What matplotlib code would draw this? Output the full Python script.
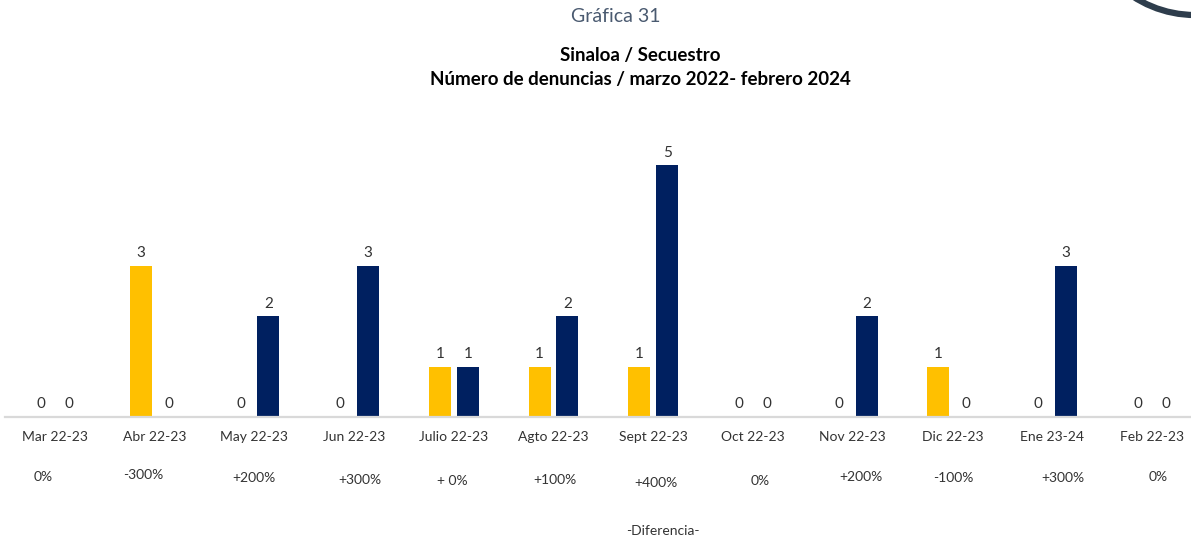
import matplotlib
matplotlib.use("Agg")
import matplotlib.pyplot as plt
from matplotlib.patches import Circle
import numpy as np

categories = ["Mar 22-23", "Abr 22-23", "May 22-23", "Jun 22-23", "Julio 22-23", "Agto 22-23",
              "Sept 22-23", "Oct 22-23", "Nov 22-23", "Dic 22-23", "Ene 23-24", "Feb 22-23"]
serie_2022_23 = [0, 3, 0, 0, 1, 1, 1, 0, 0, 1, 0, 0]
serie_2023_24 = [0, 0, 2, 3, 1, 2, 5, 0, 2, 0, 3, 0]
diferencias = ["0%", "-300%", "+200%", "+300%", "+ 0%", "+100%", "+400%", "0%", "+200%", "-100%", "+300%", "0%"]

# layout nudges (pixels) for the percent labels, as placed in the original
pct_dx = [-12, -11, 0, 6, -1, 1, 3, 7, 8, 1, 11, 6]
pct_y = [477, 475, 478, 480, 481, 480, 483, 481, 477, 478, 478, 477]

YELLOW = "#FFC000"
NAVY = "#002060"
FONT = "Lato"

W, H = 1191, 540
fig = plt.figure(figsize=(W / 100, H / 100), dpi=100)
plt.rcParams['font.family'] = [FONT, 'DejaVu Sans']

def fx(px):
    return px / W

def fy(py):
    return 1 - py / H

ax_left, ax_right = 5, 1191
ax_bottom, ax_top = 417, 114.6
ax = fig.add_axes([fx(ax_left), fy(ax_bottom), fx(ax_right - ax_left), (ax_bottom - ax_top) / H])

x = np.arange(len(categories))
bw = 0.22
off = 0.14
b1 = ax.bar(x - off, serie_2022_23, width=bw, color=YELLOW, zorder=2)
b2 = ax.bar(x + off, serie_2023_24, width=bw, color=NAVY, zorder=2)

ax.set_ylim(0, 6)
spacing = 99.7
x0 = (ax_left - 55) / spacing
x1 = x0 + (ax_right - ax_left) / spacing
ax.set_xlim(x0, x1)

for s in ["top", "right", "left"]:
    ax.spines[s].set_visible(False)
ax.spines["bottom"].set_color("#D9D9D9")
ax.spines["bottom"].set_linewidth(1.6)
ax.set_yticks([])
ax.set_xticks(x)
ax.set_xticklabels(categories, fontsize=10, color="#333333")
ax.tick_params(axis="x", length=0, pad=10)

for bars, vals in ((b1, serie_2022_23), (b2, serie_2023_24)):
    for rect, v in zip(bars, vals):
        ax.annotate(str(v), (rect.get_x() + rect.get_width() / 2, v), xytext=(0, 9),
                    textcoords="offset points", ha="center", va="center",
                    fontsize=11, color="#333333")

for xi, d, dx, py in zip(x, diferencias, pct_dx, pct_y):
    ax.annotate(d, (xi, 0), xycoords=("data", "axes fraction"),
                xytext=(dx * 0.72, -(py - 417) * 0.72),
                textcoords="offset points", ha="center", va="center", fontsize=10, color="#333333")

fig.text(fx(663), fy(531), "-Diferencia-", ha="center", va="center", fontsize=10, color="#333333")

fig.text(fx(616), fy(17), "Gráfica 31", ha="center", va="center", fontsize=14, color="#4A5A70")
fig.text(fx(640), fy(55), "Sinaloa / Secuestro", ha="center", va="center", fontsize=13.5,
         fontweight="bold", color="#000000")
fig.text(fx(640), fy(80), "Número de denuncias / marzo 2022- febrero 2024", ha="center", va="center",
         fontsize=13.5, fontweight="bold", color="#000000")

ov = fig.add_axes([0, 0, 1, 1], zorder=-1)
ov.set_xlim(0, W)
ov.set_ylim(H, 0)
ov.axis("off")
ov.add_patch(Circle((1195, -98), 113, fill=False, edgecolor="#2E3D4C", linewidth=4.5))

fig.savefig("out.png", dpi=100)
